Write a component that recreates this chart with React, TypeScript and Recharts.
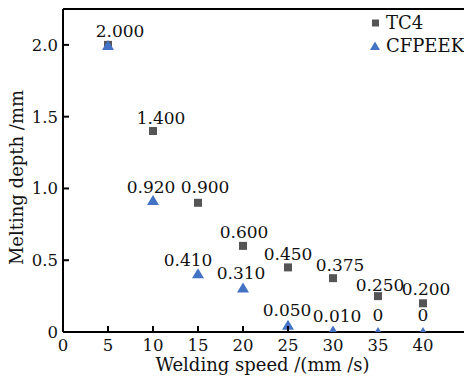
import React from 'react';
import { ScatterChart, Scatter, XAxis, YAxis, ReferenceLine, Legend, Label } from 'recharts';

const FONT = '"DejaVu Serif", "Liberation Serif", serif';
const GRAY = '#555555';
const BLUE = '#4472C4';

const speeds = [5, 10, 15, 20, 25, 30, 35, 40];
const tc4Depth = [2.0, 1.4, 0.9, 0.6, 0.45, 0.375, 0.25, 0.2];
const cfpeekDepth = [2.0, 0.92, 0.41, 0.31, 0.05, 0.01, 0, 0];
const tc4Labels = ['', '1.400', '0.900', '0.600', '0.450', '0.375', '0.250', '0.200'];
const cfpeekLabels = ['2.000', '0.920', '0.410', '0.310', '0.050', '0.010', '0', '0'];
const xTicks = [0, 5, 10, 15, 20, 25, 30, 35, 40];
const xTickLabels = ['0', '5', '10', '15', '20', '25', '30', '35', '40'];
const yTicks = [0, 0.5, 1.0, 1.5, 2.0];
const yTickLabels = ['0', '0.5', '1.0', '1.5', '2.0'];
const seriesNames = ['TC4', 'CFPEEK'];
const xTitle = 'Welding speed /(mm /s)';
const yTitle = 'Melting depth /mm';

// small nudges of the value labels relative to their markers (px)
const tc4LabelDx = [0, 8, 7, 1, 0, 7, 2, 3];
const tc4LabelDy = [0, -13, -16, -14, -13, -13, -11, -14];
const cfpeekLabelDx = [12, -2, -10, -2, -1, 4, 0, 0];
const cfpeekLabelDy = [-14, -13, -13, -14, -15, -15, -17, -17];

const tc4Data = speeds.map((s, i) => ({ speed: s, depth: tc4Depth[i], label: tc4Labels[i], idx: i }));
const cfpeekData = speeds.map((s, i) => ({ speed: s, depth: cfpeekDepth[i], label: cfpeekLabels[i], idx: i }));

// chart geometry
const CHART_W = 480;
const CHART_H = 382;
const MARGIN = { top: 9, right: 12, bottom: 0, left: 0 };
const X_AXIS_H = 50;
const Y_AXIS_W = 63;
const PLOT_BOTTOM = CHART_H - MARGIN.bottom - X_AXIS_H;

const LABEL_SIZE = 17;
const TICK_SIZE = 16.5;
const TITLE_SIZE = 18;
const LEGEND_SIZE = 18;

// a marker sitting on the axis hides the tick mark beneath it (as in the figure)
const markerOnAxis = (v: number) => cfpeekData.some((d) => d.speed === v && d.depth < 0.03);

const SquareShape = (props: any) => {
  const { cx, cy, payload } = props;
  const i = payload.idx;
  return (
    <g>
      <rect x={cx - 4} y={cy - 4} width={8} height={8} fill={GRAY} />
      {payload.label ? (
        <text x={cx + tc4LabelDx[i]} y={cy + tc4LabelDy[i] + 6} textAnchor="middle" fontFamily={FONT} fontSize={LABEL_SIZE} fill="#111">
          {payload.label}
        </text>
      ) : null}
    </g>
  );
};

const TRI_HW = 6;
const TRI_HH = 5;

const TriangleShape = (props: any) => {
  const { cx, cy, payload } = props;
  const i = payload.idx;
  const top = cy - TRI_HH;
  let bottom = cy + TRI_HH;
  let hw = TRI_HW;
  if (bottom > PLOT_BOTTOM) {
    const visible = Math.max(0, PLOT_BOTTOM - top);
    hw = (TRI_HW * visible) / (2 * TRI_HH);
    bottom = PLOT_BOTTOM;
  }
  return (
    <g>
      <polygon points={`${cx},${top} ${cx + hw},${bottom} ${cx - hw},${bottom}`} fill={BLUE} />
      {payload.label ? (
        <text x={cx + cfpeekLabelDx[i]} y={cy + cfpeekLabelDy[i] + 6} textAnchor="middle" fontFamily={FONT} fontSize={LABEL_SIZE} fill="#111">
          {payload.label}
        </text>
      ) : null}
    </g>
  );
};

const XTick = (props: any) => {
  const { x, y, payload } = props;
  const axisY = y - 4;
  const k = xTicks.indexOf(payload.value);
  return (
    <g>
      {markerOnAxis(payload.value) ? null : (
        <line x1={x} y1={axisY} x2={x} y2={axisY - 6} stroke="#000" strokeWidth={2} />
      )}
      <text x={x} y={axisY + 19} textAnchor="middle" fontFamily={FONT} fontSize={TICK_SIZE} fill="#111">
        {k >= 0 ? xTickLabels[k] : String(payload.value)}
      </text>
    </g>
  );
};

const YTick = (props: any) => {
  const { x, y, payload } = props;
  const axisX = x + 5;
  const k = yTicks.indexOf(payload.value);
  return (
    <g>
      <line x1={axisX} y1={y} x2={axisX + 6} y2={y} stroke="#000" strokeWidth={2} />
      <text x={axisX - 5} y={y + 6} textAnchor="end" fontFamily={FONT} fontSize={TICK_SIZE} fill="#111">
        {k >= 0 ? yTickLabels[k] : String(payload.value)}
      </text>
    </g>
  );
};

const LegendBox = () => (
  <div style={{ fontFamily: FONT, fontSize: LEGEND_SIZE, lineHeight: '23px', color: '#111' }}>
    <div style={{ display: 'flex', alignItems: 'center' }}>
      <svg width={14} height={14} style={{ display: 'block' }}>
        <rect x={4} y={3.5} width={7} height={7} fill={GRAY} />
      </svg>
      <span style={{ marginLeft: 4 }}>{seriesNames[0]}</span>
    </div>
    <div style={{ display: 'flex', alignItems: 'center' }}>
      <svg width={14} height={14} style={{ display: 'block' }}>
        <polygon points="7,2.5 12,11 2,11" fill={BLUE} />
      </svg>
      <span style={{ marginLeft: 4 }}>{seriesNames[1]}</span>
    </div>
  </div>
);

export default function App() {
  return (
    <div style={{ position: 'absolute', left: 0, top: 0, width: 464, height: 382, overflow: 'hidden', background: '#fff' }}>
      <ScatterChart width={CHART_W} height={CHART_H} margin={MARGIN}>
        <XAxis
          type="number"
          dataKey="speed"
          domain={[0, 45]}
          ticks={xTicks}
          height={X_AXIS_H}
          tickSize={0}
          tickMargin={4}
          tickLine={false}
          axisLine={{ stroke: '#000', strokeWidth: 2 }}
          tick={<XTick />}
          interval={0}
        >
          <Label
            content={(p: any) => {
              const vb = p.viewBox || { x: 63, y: 332, width: 405, height: 50 };
              return (
                <text x={vb.x + vb.width / 2 - 3} y={vb.y + vb.height - 11} textAnchor="middle" fontFamily={FONT} fontSize={TITLE_SIZE} fill="#111">
                  {xTitle}
                </text>
              );
            }}
          />
        </XAxis>
        <YAxis
          type="number"
          dataKey="depth"
          domain={[0, 2.25]}
          ticks={yTicks}
          width={Y_AXIS_W}
          tickSize={0}
          tickMargin={5}
          tickLine={false}
          axisLine={{ stroke: '#000', strokeWidth: 2 }}
          tick={<YTick />}
          interval={0}
        >
          <Label
            content={(p: any) => {
              const vb = p.viewBox || { x: 0, y: 9, width: 63, height: 323 };
              const tx = vb.x + 23;
              const ty = vb.y + vb.height / 2 + 7;
              return (
                <text x={tx} y={ty} transform={`rotate(-90, ${tx}, ${ty})`} textAnchor="middle" fontFamily={FONT} fontSize={TITLE_SIZE} fill="#111">
                  {yTitle}
                </text>
              );
            }}
          />
        </YAxis>
        <ReferenceLine y={2.25} stroke="#000" strokeWidth={2} />
        <Scatter name={seriesNames[0]} data={tc4Data} shape={SquareShape} isAnimationActive={false} />
        <Scatter name={seriesNames[1]} data={cfpeekData} shape={TriangleShape} isAnimationActive={false} />
        <Legend
          layout="vertical"
          align="center"
          verticalAlign="middle"
          wrapperStyle={{ left: 368, top: 11, width: 100 }}
          content={() => <LegendBox />}
        />
      </ScatterChart>
    </div>
  );
}
